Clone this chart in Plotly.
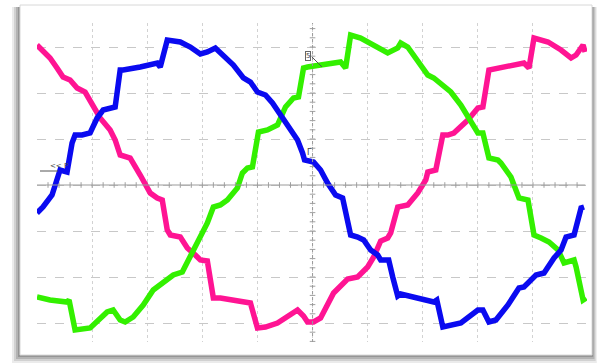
import plotly.graph_objects as go

# Time in ms (5.5 ms/div), current in A (4.6 A/div)
t_pink = [0.0, 1.3, 2.0, 2.6, 3.3, 4.0, 4.8, 5.5, 6.3, 7.3, 7.8, 8.3, 8.8, 9.3, 10.3, 11.3, 12.0, 12.5,
          13.0, 13.3, 14.3, 15.0, 15.8, 16.3, 17.0, 17.6, 18.3, 19.8, 21.3, 22.0, 22.8, 24.0, 25.3, 26.0,
          26.6, 27.0, 27.6, 28.3, 29.6, 31.0, 32.0, 33.0, 33.6, 34.3, 35.0, 35.3, 36.0, 37.0, 38.0, 38.8,
          39.0, 39.8, 40.5, 41.0, 41.6, 43.0, 44.0, 44.5, 45.1, 46.3, 48.6, 49.1, 49.6, 51.0, 52.3, 53.3,
          53.8, 54.5, 54.7]
i_pink = [14.0, 12.7, 11.7, 10.8, 10.5, 9.7, 9.3, 8.2, 6.7, 5.5, 4.5, 3.0, 2.8, 2.7, 1.0, -0.8, -1.3, -1.5,
          -4.5, -5.0, -5.2, -6.3, -7.0, -7.5, -7.6, -11.3, -11.3, -11.5, -11.8, -14.3, -14.2, -13.8, -12.9, -12.5,
          -13.1, -13.7, -13.7, -13.3, -10.8, -9.4, -9.2, -8.2, -7.2, -5.6, -5.3, -4.8, -2.2, -2.0, -0.8, 0.5,
          1.3, 1.5, 5.0, 5.0, 5.2, 6.5, 7.7, 7.8, 11.5, 11.7, 12.2, 11.7, 14.7, 14.3, 13.5, 12.7,
          13.0, 14.0, 13.3]

t_blue = [0.0, 0.6, 1.5, 2.1, 2.3, 3.0, 3.5, 3.8, 4.5, 5.3, 6.0, 6.6, 7.3, 7.8, 8.3, 8.6, 10.3, 12.0, 12.3,
          13.0, 14.3, 15.3, 16.3, 17.0, 17.8, 18.6, 19.6, 20.6, 21.3, 22.0, 22.8, 23.5, 24.5, 25.3, 26.0,
          26.5, 26.7, 27.6, 28.3, 29.0, 29.8, 30.5, 31.0, 31.3, 32.0, 32.6, 33.3, 34.0, 34.3, 35.1, 35.5,
          36.0, 36.3, 38.0, 39.6, 39.9, 40.5, 42.3, 44.0, 44.5, 45.1, 45.8, 47.0, 48.1, 48.6, 49.8, 50.6,
          51.6, 52.3, 52.8, 53.6, 54.3, 54.6]
i_blue = [-2.8, -2.2, -1.0, 1.2, 1.5, 1.3, 4.2, 5.0, 5.0, 5.2, 6.7, 7.5, 7.7, 7.8, 11.5, 11.5, 11.8, 12.2, 11.8,
          14.5, 14.3, 13.8, 13.1, 13.3, 13.7, 13.0, 12.0, 10.7, 10.3, 9.3, 9.0, 8.2, 6.7, 5.5, 4.5,
          3.2, 2.5, 2.3, 1.5, 0.2, -1.0, -1.3, -3.5, -5.0, -5.2, -5.5, -6.5, -7.0, -7.5, -7.5, -9.2,
          -11.1, -10.9, -11.3, -11.7, -11.5, -14.2, -13.8, -12.5, -12.5, -13.7, -13.5, -12.0, -10.3, -10.2, -9.0, -8.8,
          -7.3, -6.5, -5.2, -5.0, -2.3, -2.2]

t_green = [0.0, 1.3, 3.0, 3.2, 3.8, 5.3, 7.0, 7.6, 8.3, 8.8, 9.6, 10.6, 11.6, 12.6, 13.6, 14.5, 15.3, 16.3,
           17.0, 17.6, 18.3, 19.0, 20.0, 20.5, 21.0, 21.5, 21.8, 22.1, 23.0, 24.0, 24.8, 25.6, 26.1, 26.6,
           27.0, 30.3, 30.8, 31.3, 32.3, 34.3, 35.0, 36.0, 36.3, 37.0, 38.0, 39.0, 39.6, 40.6, 41.3, 42.3,
           43.0, 43.3, 44.0, 44.5, 45.1, 46.0, 46.3, 47.3, 48.1, 49.0, 49.6, 50.3, 51.1, 52.0, 52.6, 53.6,
           53.8, 54.5, 54.8]
i_green = [-11.2, -11.5, -11.7, -11.5, -14.5, -14.3, -12.7, -12.5, -13.5, -13.7, -13.2, -12.0, -10.5, -9.7, -9.0, -8.7, -7.2, -5.3,
           -3.8, -2.2, -2.0, -1.5, -0.3, 1.2, 1.7, 1.8, 3.8, 5.3, 5.5, 6.0, 7.8, 8.7, 8.8, 11.7,
           11.8, 12.3, 11.7, 15.0, 14.7, 13.7, 13.2, 13.7, 14.2, 13.8, 12.5, 11.0, 10.7, 9.8, 9.3, 8.0,
           6.8, 6.2, 5.2, 5.2, 2.7, 2.5, 2.2, 0.8, -1.3, -1.5, -5.0, -5.3, -5.7, -6.5, -7.8, -7.5,
           -8.2, -11.5, -11.3]

T_DIV = 5.5
I_DIV = 4.6

# plot area in pixels
L, R, T, B = 37, 587, 23, 342
W, H = 600, 363


def px(x):
    return (x - L) / (R - L)


def py(y):
    return (B - y) / (B - T)


fig = go.Figure()

# frame / card with shadow
shapes = []
for i, (dx, op) in enumerate([(8, 0.10), (6, 0.14), (4, 0.20), (2, 0.25)]):
    shapes.append(dict(type="rect", xref="paper", yref="paper", layer="below",
                       x0=px(20 - dx), x1=px(592 + dx * 0.6), y0=py(5 + 2), y1=py(355 + dx),
                       fillcolor=f"rgba(60,60,60,{op})", line=dict(width=0)))
shapes.append(dict(type="rect", xref="paper", yref="paper", layer="below",
                   x0=px(20), x1=px(592), y0=py(5), y1=py(355),
                   fillcolor="white", line=dict(color="#d8d8d8", width=1)))

# center cross lines
shapes.append(dict(type="line", xref="x", yref="y", x0=0, x1=10 * T_DIV * 0.995, y0=0, y1=0,
                   line=dict(color="#9a9a9a", width=1)))
shapes.append(dict(type="line", xref="x", yref="paper", x0=5 * T_DIV, x1=5 * T_DIV, y0=0, y1=1,
                   line=dict(color="#9a9a9a", width=1, dash="dot")))
# marker leader line
shapes.append(dict(type="line", xref="paper", yref="paper", x0=px(312), x1=px(322), y0=py(57), y1=py(67),
                   line=dict(color="#555", width=1)))
# underline of P marker
shapes.append(dict(type="line", xref="paper", yref="paper", x0=px(40), x1=px(58), y0=py(171), y1=py(171),
                   line=dict(color="#555", width=1)))

# minor ticks on center lines
tx = [k * T_DIV / 5 for k in range(1, 50)]
ty = [k * I_DIV / 5 for k in range(-17, 18) if k != 0]
fig.add_trace(go.Scatter(x=tx, y=[0] * len(tx), mode="markers", hoverinfo="skip", showlegend=False,
                         marker=dict(symbol="line-ns-open", size=4, color="#a0a0a0",
                                     line=dict(color="#a0a0a0", width=1))))
fig.add_trace(go.Scatter(x=[5 * T_DIV] * len(ty), y=ty, mode="markers", hoverinfo="skip", showlegend=False,
                         marker=dict(symbol="line-ew-open", size=4, color="#a0a0a0",
                                     line=dict(color="#a0a0a0", width=1))))

LW = 5.5
fig.add_trace(go.Scatter(x=t_pink, y=i_pink, mode="lines", name="ia", showlegend=False,
                         line=dict(color="#ff1493", width=LW)))
fig.add_trace(go.Scatter(x=t_green, y=i_green, mode="lines", name="ic", showlegend=False,
                         line=dict(color="#33f000", width=LW)))
fig.add_trace(go.Scatter(x=t_blue, y=i_blue, mode="lines", name="ib", showlegend=False,
                         line=dict(color="#0a0af0", width=LW)))

annotations = [
    dict(xref="paper", yref="paper", x=px(48), y=py(166), text="&lt;&lt; P", showarrow=False,
         font=dict(size=7, color="#444", family="DejaVu Sans")),
    dict(xref="paper", yref="paper", x=px(308), y=py(51), text="5", showarrow=False,
         font=dict(size=7, color="#444", family="DejaVu Sans"), bordercolor="#666", borderwidth=1, borderpad=0,
         bgcolor="white"),
    dict(xref="paper", yref="paper", x=px(309), y=py(152), text="Γ", showarrow=False,
         font=dict(size=8, color="#444", family="DejaVu Sans")),
]

fig.update_layout(
    width=W, height=H,
    margin=dict(l=L, r=W - R, t=T, b=H - B, pad=0),
    paper_bgcolor="white", plot_bgcolor="rgba(0,0,0,0)",
    shapes=shapes, annotations=annotations,
    xaxis=dict(range=[0, 10 * T_DIV * 0.998], dtick=T_DIV, tick0=0, showticklabels=False, ticks="",
               showgrid=True, gridcolor="#d2d2d2", gridwidth=1, griddash="dot", zeroline=False,
               showline=False, fixedrange=True),
    yaxis=dict(range=[(B - 185) / -10, (185 - T) / 10], dtick=I_DIV, tick0=0, showticklabels=False, ticks="",
               showgrid=True, gridcolor="#c8c8c8", gridwidth=1, griddash="dash", zeroline=False,
               showline=False, fixedrange=True),
    showlegend=False,
)

fig.write_html("out.html")
